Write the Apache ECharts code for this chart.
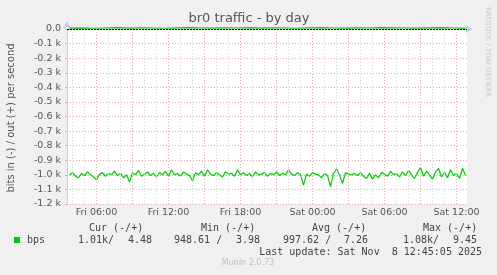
<!DOCTYPE html>
<html><head><meta charset="utf-8">
<script src="https://cdn.jsdelivr.net/npm/echarts@6/dist/echarts.min.js"></script>
<style>html,body{margin:0;padding:0;background:#f0f0f0}#c{width:497px;height:275px}</style>
</head><body><div id="c"></div>
<script>
// ---- data ----
var startHour = 3.75;          // Fri 03:45, hours since Fri 00:00
var stepHours = 0.25;          // 15-minute samples
var bitsIn = [
 1000, 985, 1010, 1020, 990, 1005, 980, 1000, 1015, 1035,
 995, 985, 1010, 990, 1000, 975, 1005, 990, 1020, 1000,
 1050, 985, 1000, 970, 1010, 995, 980, 1005, 990, 1015,
 985, 1000, 975, 1010, 965, 1000, 990, 1010, 980, 995,
 1005, 1040, 985, 1000, 975, 1010, 965, 995, 1005, 985,
 1000, 1015, 980, 995, 990, 1010, 965, 1000, 985, 1005,
 990, 1015, 980, 1000, 995, 985, 1010, 990, 1000, 980,
 1005, 990, 1000, 966, 995, 1005, 985, 1000, 1070, 995,
 1010, 985, 995, 1000, 1020, 990, 1005, 1080, 990, 960,
 1000, 1060, 985, 995, 1000, 990, 1005, 985, 1010, 1025,
 990, 1030, 1000, 1020, 985, 995, 1010, 975, 1000, 990,
 1015, 980, 1005, 970, 1000, 1025, 985, 950, 1010, 975,
 1000, 1030, 980, 955, 1015, 985, 1020, 965, 1005, 990,
 1025, 955, 1005
];
var outStep = 1;               // hourly samples of outgoing bits
var bitsOut = [6, 8, 5, 7, 9, 6, 8, 7, 5, 8, 9, 7, 6, 8, 7, 9, 6, 8, 7, 5, 8, 9, 7, 6, 8, 7, 9, 8, 7, 6, 8, 9, 7, 4.5];
var xLabelHours = [6, 12, 18, 24, 30, 36];
var xLabelTexts = ['Fri 06:00', 'Fri 12:00', 'Fri 18:00', 'Sat 00:00', 'Sat 06:00', 'Sat 12:00'];
var title = 'br0 traffic - by day';
var yName = 'bits in (-) / out (+) per second';
var seriesName = 'bps';
var statHeads = ['Cur (-/+)', 'Min (-/+)', 'Avg (-/+)', 'Max (-/+)'];
var statIn = ['1.01k/', '948.61 /', '997.62 /', '1.08k/'];
var statOut = ['4.48', '3.98', '7.26', '9.45'];
var lastUpdate = 'Last update: Sat Nov  8 12:45:05 2025';
var footer = 'Munin 2.0.73';
var sideText = 'RRDTOOL / TOBI OETIKER';

// ---- build ----
var inData = bitsIn.map(function (v, i) { return [startHour + i * stepHours, -v / 1000]; });
var outData = bitsOut.map(function (v, i) { return [startHour + i * outStep, v / 1000]; });

var vLines = [];
for (var h = 4; h <= 36; h++) {
  var major = h % 3 === 0;
  vLines.push({ xAxis: h, lineStyle: { color: major ? '#eaa8a8' : '#d8d8d8', type: [1, 2], width: 1 } });
}

var mono = 'DejaVu Sans Mono';
var sans = 'DejaVu Sans';
var g = [];
function txt(x, y, s, opt) {
  var o = { type: 'text', x: x, y: y, style: Object.assign({ text: s, font: '10px ' + mono, fill: '#444', textAlign: 'left', textVerticalAlign: 'middle' }, opt || {}) };
  g.push(o);
  return o;
}
txt(249, 19, title, { font: '13px ' + sans, fill: '#555', textAlign: 'center' });
var yn = txt(11, 118, yName, { font: '10px ' + sans, fill: '#555', textAlign: 'center' });
yn.rotation = Math.PI / 2;
var st = txt(488, 52, sideText, { font: '7px ' + sans, fill: '#c8c8c8', textAlign: 'center' });
st.rotation = -Math.PI / 2;
var headX = [89, 201, 312, 423];
statHeads.forEach(function (s, i) { txt(headX[i], 228, s); });
var inX = [78, 174, 283, 403];
var outRX = [152, 260, 368, 477];
statIn.forEach(function (s, i) { txt(inX[i], 240, s); });
statOut.forEach(function (s, i) { txt(outRX[i], 240, s, { textAlign: 'right' }); });
txt(27, 240, seriesName);
g.push({ type: 'rect', shape: { x: 14, y: 237, width: 6, height: 6 }, style: { fill: '#00cc00' } });
txt(482, 252, lastUpdate, { textAlign: 'right' });
txt(248, 263, footer, { font: '8px ' + sans, fill: '#c0c0c0', textAlign: 'center' });

var chart = echarts.init(document.getElementById('c'), null, { renderer: 'canvas' });
chart.setOption({
  animation: false,
  backgroundColor: '#f0f0f0',
  grid: { left: 67, right: 30, top: 29, bottom: 71, show: true, backgroundColor: '#ffffff', borderWidth: 0 },
  xAxis: {
    type: 'value', min: 3.54, max: 36.875,
    axisLine: { show: true, lineStyle: { color: '#c8c8f0' }, symbol: ['none', 'arrow'], symbolSize: [6, 8], symbolOffset: [0, 6] },
    axisTick: { show: false },
    splitLine: { show: false },
    axisLabel: {
      customValues: xLabelHours,
      formatter: function (v) { var k = xLabelHours.indexOf(Math.round(v)); return k >= 0 ? xLabelTexts[k] : ''; },
      color: '#555', fontSize: 9.5, fontFamily: sans, margin: 4
    }
  },
  yAxis: {
    type: 'value', min: -1.2, max: 0, interval: 0.1,
    axisLine: { show: true, lineStyle: { color: '#c8c8f0' }, symbol: ['none', 'arrow'], symbolSize: [6, 8], symbolOffset: [0, 8] },
    axisTick: { show: true, length: 2, lineStyle: { color: '#e8a0a0' } },
    splitLine: { show: true, lineStyle: { color: '#eaa8a8', type: [1, 2] } },
    axisLabel: {
      formatter: function (v) { return Math.abs(v) < 1e-9 ? '0.0' : v.toFixed(1) + ' k'; },
      color: '#555', fontSize: 9.5, fontFamily: sans, margin: 6
    }
  },
  series: [
    {
      type: 'line', data: [], silent: true,
      markLine: { silent: true, symbol: 'none', label: { show: false }, data: vLines }
    },
    {
      name: 'in', type: 'line', data: inData, showSymbol: false, clip: false,
      lineStyle: { color: '#00cc00', width: 1.2 }, itemStyle: { color: '#00cc00' }
    },
    {
      name: 'out', type: 'line', data: outData, showSymbol: false, clip: false,
      lineStyle: { color: '#00cc00', width: 1.2 }, itemStyle: { color: '#00cc00' },
      markLine: { silent: true, symbol: 'none', label: { show: false },
        data: [{ yAxis: 0, lineStyle: { color: '#000', type: [2, 1], width: 1 } }] }
    }
  ],
  graphic: g
});
</script></body></html>
